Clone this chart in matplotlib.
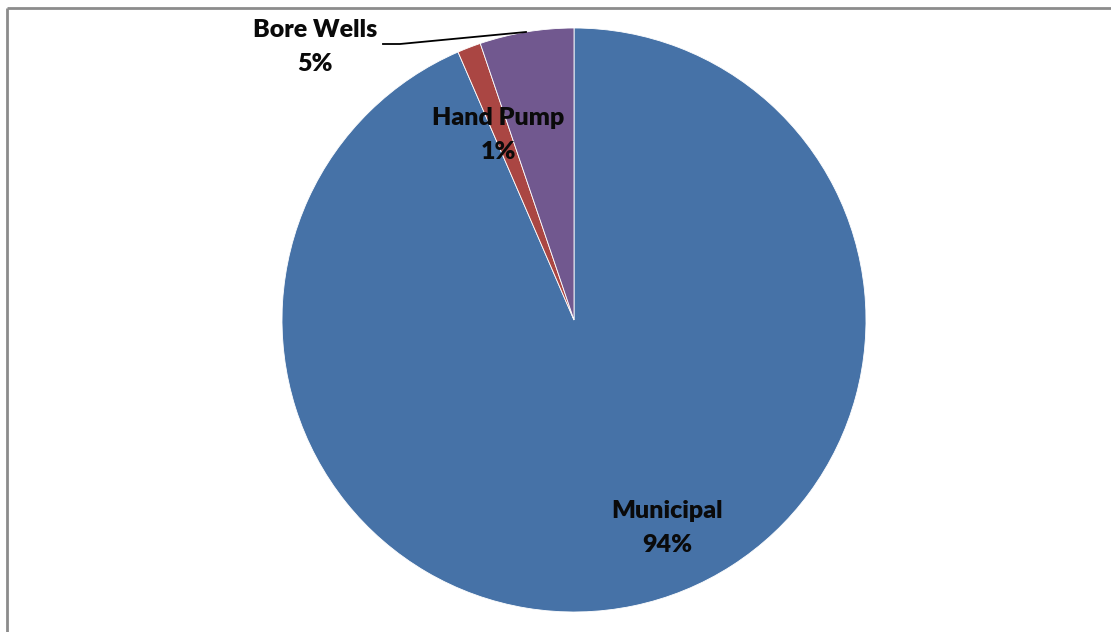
import matplotlib
matplotlib.use('Agg')
import matplotlib.pyplot as plt

# Water source shares
sources = ["Municipal", "Hand Pump", "Bore Wells"]
shares = [93.5, 1.3, 5.2]
share_labels = ["94%", "1%", "5%"]
colors = ["#4672A7", "#AA4643", "#71588F"]

W, H = 1111, 632
fig = plt.figure(figsize=(W / 100, H / 100), dpi=100)
ax = fig.add_axes([0, 0, 1, 1])

# pixel-like coordinates, y upwards
cx, cy, r = 574, H - 320, 292
wedges, _ = ax.pie(shares, colors=colors, startangle=90, counterclock=False,
                   center=(cx, cy), radius=r,
                   wedgeprops=dict(edgecolor='white', linewidth=0.6))

ax.set_xlim(0, W)
ax.set_ylim(0, H)
ax.set_aspect('equal')
ax.axis('off')

# chart area border (only left and top visible)
ax.plot([7, 7], [0, H - 8], color='#8c8c8c', lw=2, solid_capstyle='butt')
ax.plot([7, W], [H - 8, H - 8], color='#8c8c8c', lw=2, solid_capstyle='butt')

font = dict(family=['Lato', 'DejaVu Sans'], fontweight='heavy', fontsize=18,
            color='#0a0a0a', ha='center', va='center')

# label positions in pixel coords
label_pos = {
    "Municipal": (667, 511),
    "Hand Pump": (498, 118),
    "Bore Wells": (315, 30),
}
for name, pct in zip(sources, share_labels):
    x, y = label_pos[name]
    ax.text(x, H - y, name, **font)
    ax.text(x, H - y - 34, pct, **font)

# leader line for Bore Wells
ax.plot([383, 400, 526], [H - 44, H - 44, H - 32], color='black', lw=1.3)

fig.savefig("out.png", dpi=100)
